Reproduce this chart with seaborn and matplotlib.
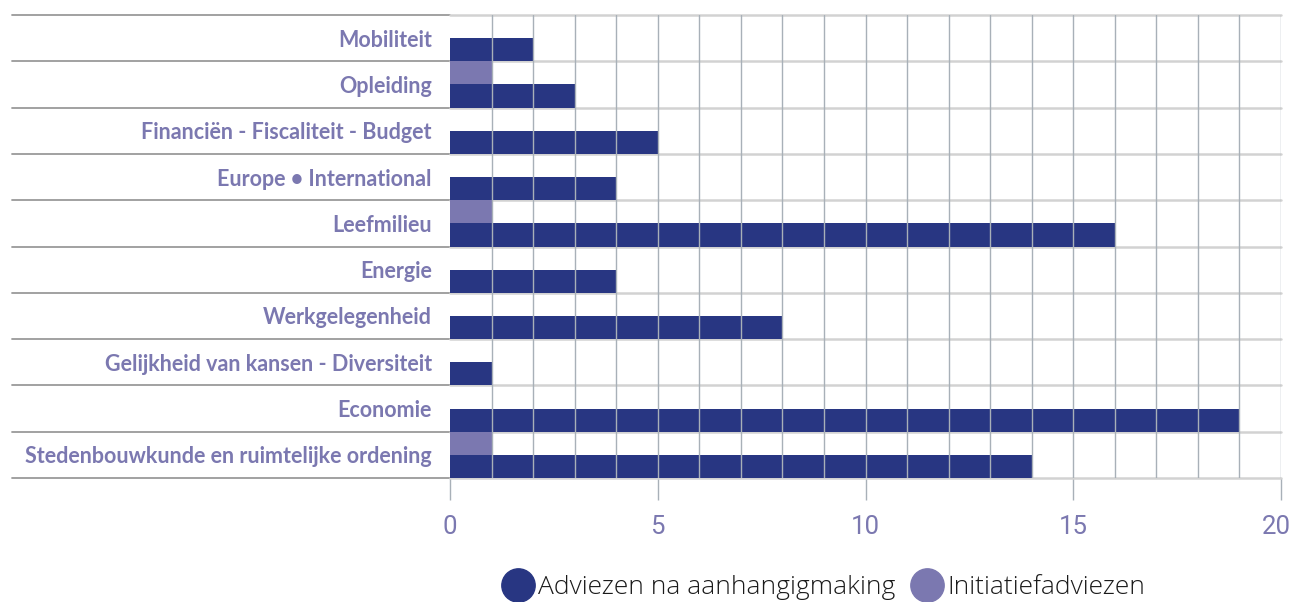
import matplotlib
matplotlib.use("Agg")
import matplotlib.pyplot as plt
import matplotlib.transforms as mtransforms
from matplotlib.lines import Line2D
import seaborn as sns
import pandas as pd

categories = [
    "Mobiliteit",
    "Opleiding",
    "Financiën - Fiscaliteit - Budget",
    "Europe • International",
    "Leefmilieu",
    "Energie",
    "Werkgelegenheid",
    "Gelijkheid van kansen - Diversiteit",
    "Economie",
    "Stedenbouwkunde en ruimtelijke ordening",
]
adviezen = [2, 3, 5, 4, 16, 4, 8, 1, 19, 14]
initiatief = [0, 1, 0, 0, 1, 0, 0, 0, 0, 1]
series_names = ["Adviezen na aanhangigmaking", "Initiatiefadviezen"]
x_ticks = [0, 5, 10, 15, 20]

DARK = "#283682"
LIGHT = "#7b78b0"
LABEL = "#7b78b0"

df = pd.DataFrame({
    "categorie": categories * 2,
    "waarde": initiatief + adviezen,
    "reeks": [series_names[1]] * len(categories) + [series_names[0]] * len(categories),
})

sns.set_theme(style="white")
plt.rcParams["font.family"] = ["Lato", "DejaVu Sans"]

fig = plt.figure(figsize=(12.93, 6.02), dpi=100)
ax = fig.add_axes([450 / 1293, 1 - 478 / 602, (1281 - 450) / 1293, (478 - 15) / 602])

sns.barplot(
    data=df, y="categorie", x="waarde", hue="reeks",
    order=categories, hue_order=[series_names[1], series_names[0]],
    palette={series_names[0]: DARK, series_names[1]: LIGHT},
    orient="h", width=1.0, dodge=True, ax=ax, legend=False,
    saturation=1, linewidth=0, zorder=2,
)

ax.set_xlim(0, 20)
ax.set_ylim(len(categories) - 0.5, -0.5)
ax.set_xlabel("")
ax.set_ylabel("")
for s in ax.spines.values():
    s.set_visible(False)

# vertical grid lines
for v in range(1, 21):
    ax.axvline(v, color="#a8b0b8", lw=1.0, zorder=3)

# horizontal separators
left_ext = (12 - 450) / (1281 - 450)
for k in range(len(categories) + 1):
    yv = k - 0.5
    ax.plot([left_ext, 0], [yv, yv], transform=ax.get_yaxis_transform(),
            color="#9a9a9a", lw=1.3, clip_on=False, zorder=1)
    ax.plot([0, 1], [yv, yv], transform=ax.get_yaxis_transform(),
            color="#d2d2d2", lw=1.8, clip_on=False, zorder=1)

ax.set_xticks(x_ticks)
ax.set_xticklabels([str(t) for t in x_ticks])
ax.tick_params(axis="x", length=16, width=1.0, color="#a8b0b8", pad=11,
               labelsize=18.5, labelcolor=LABEL, bottom=True)
xlabels = ax.get_xticklabels()
for lab in xlabels:
    lab.set_fontfamily(["Roboto", "DejaVu Sans"])
    lab.set_fontweight("normal")
xlabels[-1].set_transform(xlabels[-1].get_transform() +
                          mtransforms.ScaledTranslation(-5 / 100, 0, fig.dpi_scale_trans))
ax.tick_params(axis="y", length=0, pad=13, labelsize=15.5, labelcolor=LABEL)
for lab in ax.get_yticklabels():
    lab.set_fontweight("bold")

handles = [
    Line2D([], [], marker="o", linestyle="", markersize=24, color=DARK, label=series_names[0]),
    Line2D([], [], marker="o", linestyle="", markersize=24, color=LIGHT, label=series_names[1]),
]
leg = fig.legend(handles=handles, loc="center", bbox_to_anchor=(825 / 1293, 1 - 588 / 602),
                 ncol=2, frameon=False, handletextpad=0.25,
                 columnspacing=0.7, handlelength=1.0, borderaxespad=0, borderpad=0,
                 prop={"family": ["Open Sans", "DejaVu Sans"], "weight": "light", "size": 19})
for t in leg.get_texts():
    t.set_color("#1a1a1a")

fig.savefig("out.png", dpi=100)
